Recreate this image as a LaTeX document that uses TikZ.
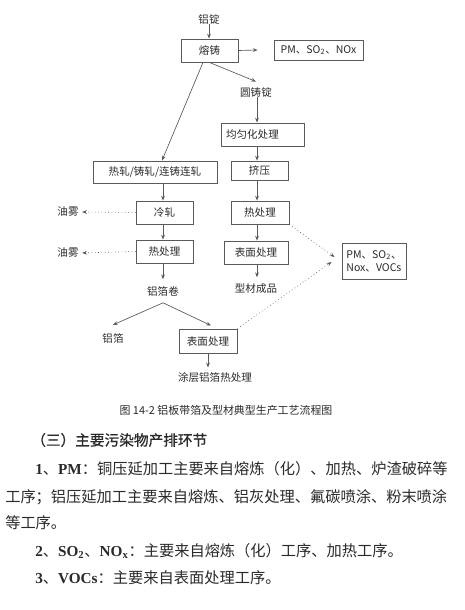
\documentclass[tikz,border=0pt]{standalone}
\usepackage{fontspec}
\setmainfont{Liberation Serif}
\newfontfamily\cjk{Noto Sans CJK SC}
\newfontfamily\cjkm{Noto Sans CJK SC}[FakeBold=0.8]
\newfontfamily\lat{Liberation Serif}
\usetikzlibrary{arrows.meta}
\definecolor{ln}{HTML}{5A5A5A}
\definecolor{tx}{HTML}{2A2A2A}
\tikzset{
  box/.style={draw=ln, line width=0.7pt, inner sep=0pt, text=tx,
    font=\cjk\fontsize{7.9}{9.6}\selectfont},
  lbl/.style={inner sep=0pt, text=tx, font=\cjk\fontsize{7.9}{9.6}\selectfont},
  arr/.style={draw=ln, line width=0.5pt, -{Stealth[length=3.6pt,width=2.8pt]}},
  dotarr/.style={arr, dotted, line width=0.45pt},
  body/.style={anchor=west, inner sep=0pt, text=tx, font=\cjk\fontsize{11.43}{13}\selectfont},
}
\begin{document}
\begin{tikzpicture}[x=0.75pt, y=-0.75pt]
\useasboundingbox[fill=white] (0,0) rectangle (464,610);
% boxes
\node[box, minimum width=57*0.75pt, minimum height=23*0.75pt] (rz) at (209.5,50.5) {熔铸};
\node[box, minimum width=89*0.75pt, minimum height=20*0.75pt] (pm1) at (318.5,50) {PM、SO\textsubscript{2}、NOx};
\node[box, minimum width=83*0.75pt, minimum height=23*0.75pt] (jy) at (262.5,134.5) {};
\node[lbl, anchor=west] (jyt) at ([xshift=4pt]jy.west) {均匀化处理};
\node[box, minimum width=124*0.75pt, minimum height=22*0.75pt] (rzl) at (155,172) {热轧/铸轧/连铸连轧};
\node[box, minimum width=57*0.75pt, minimum height=19*0.75pt] (jiya) at (259.5,170.5) {挤压};
\node[box, minimum width=57*0.75pt, minimum height=23*0.75pt] (lz) at (164.5,212.5) {冷轧};
\node[box, minimum width=57*0.75pt, minimum height=23*0.75pt] (rcl) at (164.5,251.5) {热处理};
\node[box, minimum width=58*0.75pt, minimum height=23*0.75pt] (rcr) at (260,212.5) {热处理};
\node[box, minimum width=64*0.75pt, minimum height=23*0.75pt] (bmr) at (256,252.5) {表面处理};
\node[box, minimum width=58*0.75pt, minimum height=24*0.75pt] (bmb) at (208,341) {表面处理};
\node[box, minimum width=64*0.75pt, minimum height=36*0.75pt, align=left] (pm2) at (374,261) {PM、SO\textsubscript{2}、\\Nox、VOCs};
% labels
\node[lbl] (ld) at (209,19) {铝锭};
\node[lbl] (yzd) at (256,92) {圆铸锭};
\node[lbl] (xc) at (256,289) {型材成品};
\node[lbl] (lzj) at (163,291) {铝箔卷};
\node[lbl] (lb) at (113,338) {铝箔};
\node[lbl] (tc) at (215,378) {涂层铝箔热处理};
\node[lbl] (ym1) at (68,212) {油雾};
\node[lbl] (ym2) at (68,253) {油雾};
% column coordinates
\coordinate (cr) at (257,0);
\coordinate (cl) at (163,0);
% connectors
\draw[arr] (ld.south) -- (ld.south |- rz.north);
\draw[arr] (rz.east) -- ([xshift=-12pt]pm1.west);
\draw[arr] (rz.south) -- ([yshift=4pt]yzd.north);
\draw[arr] ([xshift=-4.9pt]rz.south) -- ([xshift=5.25pt]rzl.north);
\draw[arr] (cr |- yzd.south) -- (cr |- jy.north);
\draw[arr] (cr |- jy.south) -- (cr |- jiya.north);
\draw[arr] (cr |- jiya.south) -- (cr |- rcr.north);
\draw[arr] (cr |- rcr.south) -- (cr |- bmr.north);
\draw[arr, shorten >=5pt] (cr |- bmr.south) -- (cr |- xc.north);
\draw[arr] (cl |- rzl.south) -- (cl |- lz.north);
\draw[arr] (cl |- lz.south) -- (cl |- rcl.north);
\draw[arr, shorten >=5pt] (cl |- rcl.south) -- (lzj.north);
\draw[dotarr, shorten >=2.5pt] (lz.west) -- (ym1.east);
\draw[dotarr, shorten >=2.5pt] (rcl.west) -- (ym2.east);
\coordinate (sp) at ([yshift=-5pt]lzj.south);
\draw[arr] (sp) -- ([yshift=6pt]lb.north);
\draw[arr] (sp) -- ([xshift=2.25pt, yshift=2.25pt]bmb.north);
\draw[arr, shorten >=4pt] (bmb.south) -- (bmb.south |- tc.north);
\draw[dotarr] (rcr.south east) -- ([xshift=-5.25pt, yshift=3pt]pm2.west);
\draw[dotarr] (bmb.north east) -- ([xshift=-7.5pt, yshift=-0.75pt]pm2.west);
% caption and body text
\node[lbl, font=\cjk\fontsize{8.2}{10}\selectfont, text=tx] (cap) at (226,410) {图 14-2 铝板带箔及型材典型生产工艺流程图};
\node[body, font=\cjkm\fontsize{11}{13}\selectfont] (h3) at (31,440) {（三）主要污染物产排环节};
\node[body] (p1) at (35,469) {{\lat\bfseries 1}、{\lat\bfseries PM}：铜压延加工主要来自熔炼（化）、加热、炉渣破碎等};
\node[body] (p2) at (5,497) {工序；铝压延加工主要来自熔炼、铝灰处理、氟碳喷涂、粉末喷涂};
\node[body] (p3) at (5,523) {等工序。};
\node[body] (p4) at (35,551) {{\lat\bfseries 2}、{\lat\bfseries SO\textsubscript{2}}、{\lat\bfseries NO\textsubscript{x}}：主要来自熔炼（化）工序、加热工序。};
\node[body] (p5) at (35,578) {{\lat\bfseries 3}、{\lat\bfseries VOCs}：主要来自表面处理工序。};
\end{tikzpicture}
\end{document}
